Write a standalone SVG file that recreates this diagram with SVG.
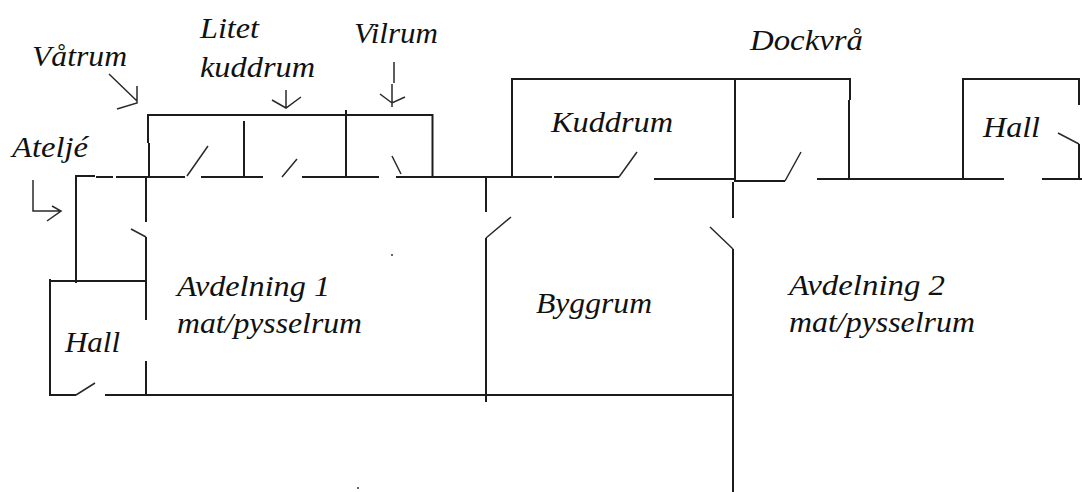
<svg xmlns="http://www.w3.org/2000/svg" width="1082" height="492" viewBox="0 0 1082 492">
<style>
.w{fill:none;stroke:#1c1c1c;stroke-width:2}
.d{fill:none;stroke:#2a2a2a;stroke-width:1.5}
.t{font-family:"Liberation Serif","Times New Roman",serif;font-style:italic;font-size:30px;fill:#111}
</style>
<rect width="1082" height="492" fill="#fff"/>
<g id="walls">
<path class="w" d="M76 283V176H95M96 177H113M116 177H185M201 177H263M302 177H379M396 177H512M512 177H552M554 177H619M654 179H735M735 181H785M817 179H1004M1042 179H1082"/>
<path class="w" d="M149 177V143M148 143V115H432.500V177M244 121V177M346 110V177"/>
<path class="w" d="M512 177V79H850V100M849 100V179M735 79V182M733 182V218M733 249V492"/>
<path class="w" d="M963 179V79H1080M1079 79V105M1079 144V178"/>
<path class="w" d="M146 177V222M146 237V320M146 361V395M50 279V395H76M105 395H733M50 281H146"/>
<path class="w" d="M486 177V212M486 238V402"/>
</g>
<g id="doors">
<path class="d" d="M187 176L208 146M282 177L297 159M401 174L392 156M619 177L637 152M785 181L801 152M1058 133L1079 144M131 229L146 237M511 217L486 238M710 227L733 249M76 395L95 383"/>
</g>
<g id="arrows">
<path class="d" d="M109 74L137 101M137 86V103L117 109M286 90V108M272 100L286 108L301 97M394 62V83M392 84V107M380 94L392 103L405 97M33 180V211H61M47 221L61 211L52 206"/>
</g>
<circle cx="392" cy="255" r="1" fill="#333"/>
<circle cx="358" cy="488" r="1" fill="#333"/>
<g id="labels">
<text class="t" x="32" y="66" textLength="95" lengthAdjust="spacingAndGlyphs">Våtrum</text>
<text class="t" x="200" y="38" textLength="59" lengthAdjust="spacingAndGlyphs">Litet</text>
<text class="t" x="200" y="77" textLength="115" lengthAdjust="spacingAndGlyphs">kuddrum</text>
<text class="t" x="354" y="43" textLength="84" lengthAdjust="spacingAndGlyphs">Vilrum</text>
<text class="t" x="12" y="157" textLength="76" lengthAdjust="spacingAndGlyphs">Ateljé</text>
<text class="t" x="750" y="50" textLength="113" lengthAdjust="spacingAndGlyphs">Dockvrå</text>
<text class="t" x="551" y="132" textLength="122" lengthAdjust="spacingAndGlyphs">Kuddrum</text>
<text class="t" x="983" y="137" textLength="57" lengthAdjust="spacingAndGlyphs">Hall</text>
<text class="t" x="65" y="352" textLength="55" lengthAdjust="spacingAndGlyphs">Hall</text>
<text class="t" x="177" y="296" textLength="153" lengthAdjust="spacingAndGlyphs">Avdelning 1</text>
<text class="t" x="177" y="333" textLength="185" lengthAdjust="spacingAndGlyphs">mat/pysselrum</text>
<text class="t" x="536" y="313" textLength="116" lengthAdjust="spacingAndGlyphs">Byggrum</text>
<text class="t" x="789" y="295" textLength="156" lengthAdjust="spacingAndGlyphs">Avdelning 2</text>
<text class="t" x="789" y="332" textLength="186" lengthAdjust="spacingAndGlyphs">mat/pysselrum</text>
</g>
</svg>
